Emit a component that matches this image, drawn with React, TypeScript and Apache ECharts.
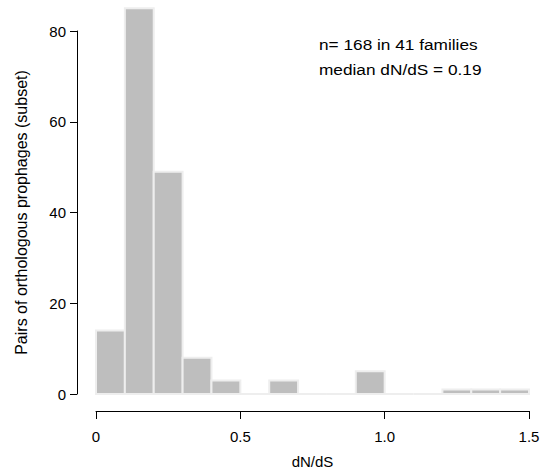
import React, { useEffect, useRef } from "react";
import * as echarts from "echarts";

const binStarts = [0, 0.1, 0.2, 0.3, 0.4, 0.5, 0.6, 0.7, 0.8, 0.9, 1.0, 1.1, 1.2, 1.3, 1.4];
const binEnds = [0.1, 0.2, 0.3, 0.4, 0.5, 0.6, 0.7, 0.8, 0.9, 1.0, 1.1, 1.2, 1.3, 1.4, 1.5];
const counts = [14, 85, 49, 8, 3, 0, 3, 0, 0, 5, 0, 0, 1, 1, 1];
const annotations = ["n= 168 in 41 families", "median dN/dS = 0.19"];
const xTicks = [0, 0.5, 1.0, 1.5];
const yTicks = [0, 20, 40, 60, 80];

const FONT = "'Liberation Sans', Arial, sans-serif";

export default function App() {
  const ref = useRef<HTMLDivElement>(null);
  useEffect(() => {
    if (!ref.current) return;
    const chart = echarts.init(ref.current, null, { renderer: "svg" });
    const data = binStarts.map((s, i) => [s, binEnds[i], counts[i]]);
    chart.setOption({
      animation: false,
      backgroundColor: "#ffffff",
      textStyle: { fontFamily: FONT },
      grid: {
        left: 96,
        right: 15,
        top: 31,
        bottom: 76,
        containLabel: false,
        outerBoundsMode: "none",
      },
      xAxis: {
        type: "value",
        min: xTicks[0],
        max: xTicks[xTicks.length - 1],
        interval: 0.5,
        offset: 17,
        name: "dN/dS",
        nameLocation: "middle",
        nameGap: 43,
        nameTextStyle: { fontSize: 15, color: "#000", fontFamily: FONT },
        axisLine: { show: true, onZero: false, lineStyle: { color: "#000000", width: 1 } },
        axisTick: { show: true, length: 8, lineStyle: { color: "#000", width: 1 } },
        axisLabel: {
          fontSize: 15,
          color: "#000",
          fontFamily: FONT,
          margin: 18,
          showMaxLabel: true,
          showMinLabel: true,
          formatter: (v: number) => (v === 0 ? "0" : v.toFixed(1)),
        },
        splitLine: { show: false },
      },
      yAxis: {
        type: "value",
        position: "left",
        min: yTicks[0],
        max: yTicks[yTicks.length - 1],
        interval: 20,
        offset: 19,
        name: "Pairs of orthologous prophages (subset)",
        nameLocation: "middle",
        nameGap: 48,
        nameTextStyle: { fontSize: 16, color: "#000", fontFamily: FONT },
        axisLine: { show: true, onZero: false, lineStyle: { color: "#000000", width: 1 } },
        axisTick: { show: true, length: 7, lineStyle: { color: "#000", width: 1 } },
        axisLabel: { fontSize: 15, color: "#000", fontFamily: FONT, margin: 11 },
        splitLine: { show: false },
      },
      series: [
        {
          type: "custom",
          clip: false,
          data,
          renderItem: (params: any, api: any) => {
            const p0 = api.coord([api.value(0), 0]);
            const p1 = api.coord([api.value(1), api.value(2)]);
            return {
              type: "rect",
              shape: {
                x: p0[0],
                y: p1[1],
                width: p1[0] - p0[0],
                height: p0[1] - p1[1],
              },
              style: { fill: "#bebebe", stroke: "#eeeeee", lineWidth: 2 },
            };
          },
        },
      ],
      graphic: annotations.map((t, i) => ({
        type: "text",
        x: 319,
        y: 37 + i * 25,
        scaleX: 1.15,
        style: { text: t, fontSize: 15, fill: "#000", fontFamily: FONT },
      })),
    });
    return () => chart.dispose();
  }, []);
  return (
    <div
      ref={ref}
      style={{ position: "fixed", left: 0, top: 0, width: 544, height: 470 }}
    />
  );
}
